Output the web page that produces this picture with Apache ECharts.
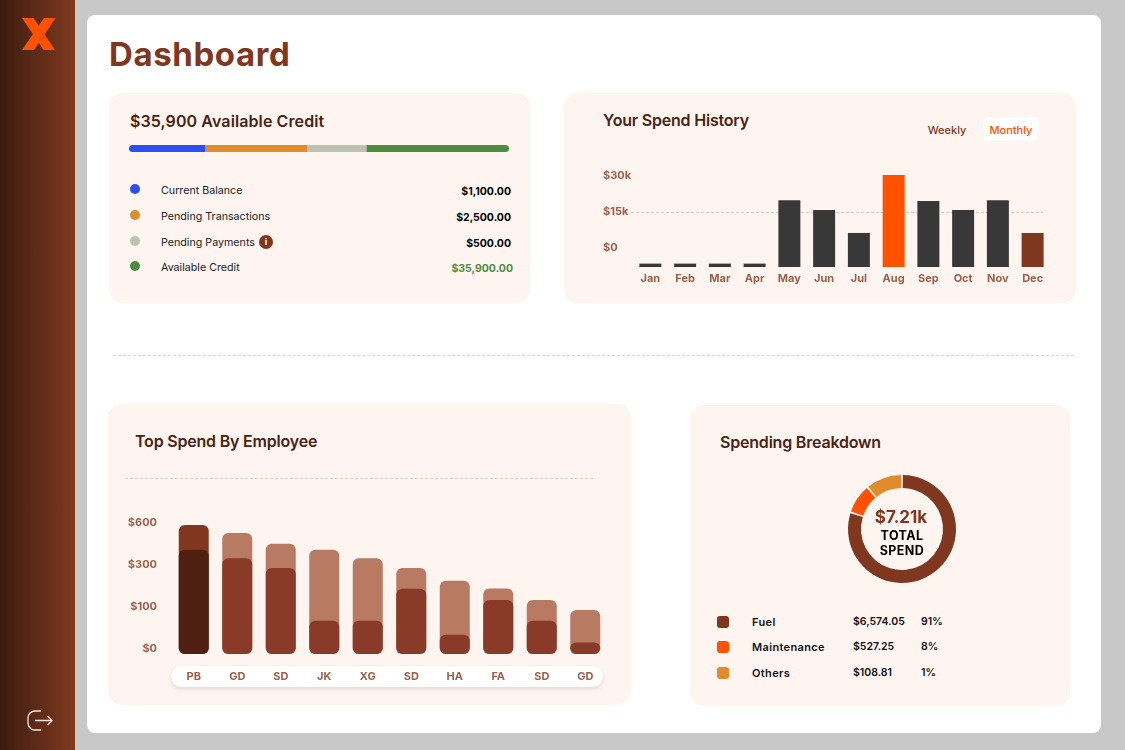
<!DOCTYPE html>
<html>
<head>
<meta charset="utf-8">
<script src="https://cdn.jsdelivr.net/npm/echarts@6/dist/echarts.min.js"></script>
<style>
  html, body { margin: 0; padding: 0; width: 1125px; height: 750px; overflow: hidden; background: #c8c8c8; font-family: Inter, sans-serif; }
  .abs, .t { position: absolute; }
  .t { white-space: nowrap; line-height: 1; transform: translateY(-50%); }
  .r { transform: translate(-100%, -50%); }
  .c { transform: translate(-50%, -50%); text-align: center; }
  .panel { position: absolute; background: #fef5f1; border-radius: 14px; }
  .h2 { color: #4a2213; font: 600 16px Inter, sans-serif; letter-spacing: -0.2px; }
  #sidebar { left: 0; top: 0; width: 75px; height: 750px; background: linear-gradient(90deg, #3c1a0e 0%, #5e2b18 50%, #80391f 100%); }
  #sheet { left: 87px; top: 15px; width: 1014px; height: 718px; background: #fff; border-radius: 8px; }
  #main { position: absolute; left: 0; top: 0; width: 1125px; height: 750px; }
</style>
</head>
<body>
<div class="abs" id="sidebar"></div>
<svg class="abs" style="left:21px;top:18px" width="35" height="33" viewBox="0 0 35 33">
  <path d="M1 0h11.500l21.500 32h-11.500z" fill="#ff5200"/>
  <path d="M23 0h11.500l-21.500 32h-12z" fill="#ff5200"/>
  <path d="M15.500 20.500l6-4.500" stroke="#c9400a" stroke-width="0"/>
  <path d="M18.500 11.500l4.500 6.500-3 4" fill="none" stroke="#c9400a" stroke-width="0.8"/>
</svg>
<svg class="abs" style="left:26px;top:707px" width="28" height="26" viewBox="0 0 28 26" fill="none" stroke="#f6e6de" stroke-width="1.3">
  <path d="M15 4h-6a7 7 0 0 0-7 7v5a7 7 0 0 0 7 7h6"/>
  <path d="M9 13.500h17M21.500 9l4.500 4.500-4.500 4.500"/>
</svg>
<div class="abs" id="sheet"></div>
<div class="t" style="left:109px;top:54px;color:#80371f;font:700 33px Inter,sans-serif;letter-spacing:0.6px">Dashboard</div>

<div class="panel" style="left:109px;top:93px;width:421px;height:210px"></div>
<div class="panel" style="left:564px;top:93px;width:512px;height:210px"></div>
<div class="panel" style="left:108px;top:404px;width:523px;height:301px"></div>
<div class="panel" style="left:690px;top:405px;width:380px;height:301px"></div>

<div class="t h2" style="left:130px;top:121px;letter-spacing:0.1px">$35,900 Available Credit</div>
<div class="t h2" style="left:603px;top:120px">Your Spend History</div>
<div class="t h2" style="left:135px;top:441px">Top Spend By Employee</div>
<div class="t h2" style="left:720px;top:442px">Spending Breakdown</div>

<div class="abs" style="left:983px;top:117px;width:56px;height:24px;background:#fff;border-radius:6px"></div>
<div class="t c" style="left:947px;top:130px;color:#80371f;font:500 11px Inter,sans-serif">Weekly</div>
<div class="t c" style="left:1011px;top:130px;color:#ff5200;font:500 11px Inter,sans-serif">Monthly</div>

<div class="abs" style="left:113px;top:355px;width:961px;border-top:1px dashed #d6d6d6"></div>
<div class="abs" style="left:125px;top:478px;width:468px;border-top:1px dashed #dccdc6"></div>
<div class="abs" style="left:171px;top:666px;width:432px;height:21px;background:#fff;border-radius:11px;box-shadow:0 2px 4px rgba(120,70,50,.18)"></div>

<div id="credit-rows"></div>
<div id="spend-rows"></div>

<div id="main"></div>

<div class="t c" style="left:901px;top:517px;color:#80371f;font:700 17px Inter,sans-serif">$7.21k</div>
<div class="t c" style="left:902px;top:535px;color:#000;font:700 12.5px Inter,sans-serif;letter-spacing:0.4px">TOTAL</div>
<div class="t c" style="left:902px;top:550px;color:#000;font:700 12.5px Inter,sans-serif;letter-spacing:0.4px">SPEND</div>

<script>
// credit block
const creditNames = ["Current Balance", "Pending Transactions", "Pending Payments", "Available Credit"];
const creditAmounts = ["$1,100.00", "$2,500.00", "$500.00", "$35,900.00"];
const creditColors = ["#2b4ff0", "#e08c2c", "#bdc2b1", "#4e8c42"];
// share of the progress bar each segment takes, in %
const creditShare = [20, 27, 15.5, 37.5];

// spend history, bar heights in $k
const months = ["Jan", "Feb", "Mar", "Apr", "May", "Jun", "Jul", "Aug", "Sep", "Oct", "Nov", "Dec"];
const monthSpend = [1.1, 1.1, 1.1, 1.1, 21.8, 18.6, 11.1, 30, 21.5, 18.6, 21.8, 11.1];
const spendTicks = { 0: "$0", 15: "$15k", 30: "$30k" };

// top spend by employee
const employees = ["PB", "GD", "SD", "JK", "XG", "SD", "HA", "FA", "SD", "GD"];
const employeeTotal = [600, 563, 513, 485, 445, 400, 341, 305, 251, 205];
const employeeInner = [485, 445, 400, 155, 155, 304, 90, 251, 155, 53];
const employeeTicks = ["$0", "$100", "$300", "$600"];

// spending breakdown
const breakdownNames = ["Fuel", "Maintenance", "Others"];
const breakdownAmounts = ["$6,574.05", "$527.25", "$108.81"];
const breakdownPercents = ["91%", "8%", "1%"];
const breakdownColors = ["#80371f", "#ff5200", "#e08c2c"];
// ring slices as drawn, in %
const breakdownRing = [80, 9, 11];

const axisLabelColor = "#9c5f4a";

// html rows next to the charts
let html = "";
const creditY = [190, 216, 242, 267];
creditNames.forEach(function (name, i) {
  html += `<div class="abs" style="left:130px;top:${creditY[i] - 6}px;width:10px;height:10px;border-radius:50%;background:${creditColors[i]}"></div>`;
  html += `<div class="t" style="left:161px;top:${creditY[i]}px;color:#222;font:400 10.7px Inter,sans-serif">${name}</div>`;
  const right = i === 3 ? 513 : 511;
  const color = i === 3 ? "#4e8c42" : "#000";
  html += `<div class="t r" style="left:${right}px;top:${creditY[i] + 1}px;color:${color};font:700 10.5px Inter,sans-serif">${creditAmounts[i]}</div>`;
});
html += `<div class="t c" style="left:266px;top:242px;width:14px;height:14px;line-height:14px;border-radius:50%;background:#80371f;color:#fff;font:700 9px/14px Inter,sans-serif">i</div>`;
document.getElementById("credit-rows").innerHTML = html;

html = "";
const breakdownY = [622, 647, 673];
breakdownNames.forEach(function (name, i) {
  html += `<div class="abs" style="left:717px;top:${breakdownY[i] - 6}px;width:12px;height:12px;border-radius:3px;background:${breakdownColors[i]}"></div>`;
  html += `<div class="t" style="left:752px;top:${breakdownY[i]}px;color:#111;font:600 11px Inter,sans-serif;letter-spacing:0.35px">${name}</div>`;
  html += `<div class="t" style="left:853px;top:${breakdownY[i] - 1}px;color:#111;font:600 10.5px Inter,sans-serif">${breakdownAmounts[i]}</div>`;
  html += `<div class="t" style="left:921px;top:${breakdownY[i] - 1}px;color:#111;font:600 10.5px Inter,sans-serif">${breakdownPercents[i]}</div>`;
});
document.getElementById("spend-rows").innerHTML = html;

const chart = echarts.init(document.getElementById("main"), null, { width: 1125, height: 750 });

const labelFont = { color: axisLabelColor, fontFamily: "Inter", fontWeight: 700, fontSize: 11 };

const option = {
  animation: false,
  backgroundColor: "transparent",
  grid: [
    { left: 129, top: 145, width: 380, height: 7 },   // credit bar
    { left: 633, top: 175, width: 417, height: 92 },  // spend bars
    { left: 631, top: 176, width: 412, height: 72 },  // spend tick labels
    { left: 172, top: 525, width: 435, height: 129 }, // employee bars
    { left: 171, top: 523, width: 435, height: 126 }  // employee tick labels
  ],
  xAxis: [
    { gridIndex: 0, type: "value", min: 0, max: 100, show: false },
    {
      gridIndex: 1,
      type: "category",
      data: months,
      axisLine: { show: false },
      axisTick: { show: false },
      axisLabel: Object.assign({ interval: 0, margin: 6 }, labelFont)
    },
    { gridIndex: 2, type: "value", show: false },
    {
      gridIndex: 3,
      type: "category",
      data: employees,
      axisLine: { show: false },
      axisTick: { show: false },
      axisLabel: Object.assign({ interval: 0, margin: 17 }, labelFont)
    },
    { gridIndex: 4, type: "value", show: false }
  ],
  yAxis: [
    { gridIndex: 0, type: "category", data: ["credit"], show: false },
    { gridIndex: 1, type: "value", min: 0, max: 30, show: false },
    {
      gridIndex: 2,
      type: "value",
      min: 0,
      max: 30,
      interval: 15,
      axisLine: { show: false },
      axisTick: { show: false },
      axisLabel: Object.assign({
        align: "left",
        margin: 28,
        formatter: function (v) { return spendTicks[v]; }
      }, labelFont),
      splitLine: {
        showMinLine: false,
        showMaxLine: false,
        lineStyle: { color: "#e6c8bc", type: [3, 2], width: 1 }
      }
    },
    { gridIndex: 3, type: "value", min: 0, max: 600, show: false },
    {
      gridIndex: 4,
      type: "category",
      boundaryGap: false,
      data: employeeTicks,
      axisLine: { show: false },
      axisTick: { show: false },
      axisLabel: Object.assign({ margin: 14 }, labelFont)
    }
  ],
  series: [
    ...creditShare.map(function (v, i) {
      let radius = 0;
      if (i === 0) radius = [3.5, 0, 0, 3.5];
      if (i === creditShare.length - 1) radius = [0, 3.5, 3.5, 0];
      return {
        type: "bar",
        stack: "credit",
        xAxisIndex: 0,
        yAxisIndex: 0,
        barWidth: 7,
        data: [v],
        itemStyle: { color: creditColors[i], borderRadius: radius }
      };
    }),
    {
      type: "bar",
      xAxisIndex: 1,
      yAxisIndex: 1,
      barWidth: 22,
      data: monthSpend.map(function (v, i) {
        let color = "#383838";
        if (months[i] === "Aug") color = "#ff5200";
        if (months[i] === "Dec") color = "#80371f";
        return { value: v, itemStyle: { color: color } };
      })
    },
    {
      type: "bar",
      xAxisIndex: 3,
      yAxisIndex: 3,
      barWidth: 30,
      barGap: "-100%",
      data: employeeTotal.map(function (v, i) {
        return { value: v, itemStyle: { color: i === 0 ? "#80371f" : "#b87a62", borderRadius: 6 } };
      })
    },
    {
      type: "bar",
      xAxisIndex: 3,
      yAxisIndex: 3,
      barWidth: 30,
      barGap: "-100%",
      data: employeeInner.map(function (v, i) {
        return { value: v, itemStyle: { color: i === 0 ? "#4f2012" : "#8a3a28", borderRadius: 6 } };
      })
    },
    {
      type: "pie",
      center: [902, 529],
      radius: [41, 54],
      startAngle: 90,
      padAngle: 2,
      silent: true,
      label: { show: false },
      labelLine: { show: false },
      data: breakdownRing.map(function (v, i) {
        return { value: v, name: breakdownNames[i], itemStyle: { color: breakdownColors[i] } };
      })
    }
  ]
};
chart.setOption(option);
</script>
</body>
</html>
